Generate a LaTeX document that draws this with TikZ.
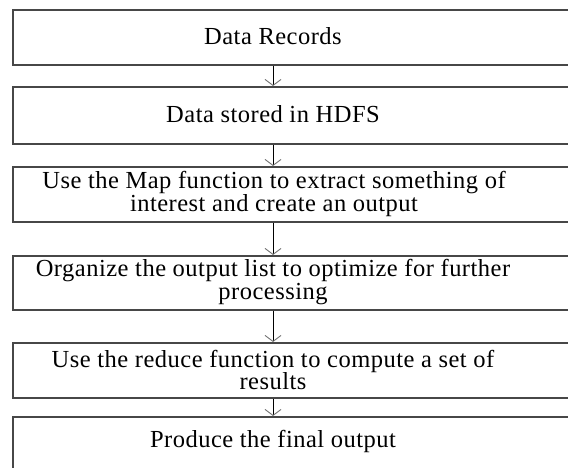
\documentclass[tikz,border=0pt]{standalone}
\usepackage{fontspec}
\setmainfont{Liberation Serif}[LetterSpace=2.0]
\usetikzlibrary{arrows.meta}
\begin{document}
\begin{tikzpicture}[x=1pt,y=-1pt,
  boxstyle/.style={draw=black!72,line width=1.7pt,rectangle,anchor=north west,inner sep=0pt,minimum width=600pt},
  txt/.style={align=center,inner sep=0pt,font=\fontsize{24.5}{22.5}\selectfont},
  arr/.style={draw=black,line width=0.9pt,-{Straight Barb[length=6pt,width=16pt,line width=0.9pt,color=black!55]}}]
\useasboundingbox (0,0) rectangle (568,468);
\clip (0,0) rectangle (568,468);
\node[boxstyle,minimum height=55pt] (b1) at (12,9) {};
\node[boxstyle,minimum height=57pt] (b2) at (12,86) {};
\node[boxstyle,minimum height=55pt] (b3) at (12,166) {};
\node[boxstyle,minimum height=54pt] (b4) at (12,255) {};
\node[boxstyle,minimum height=55pt] (b5) at (12,342) {};
\node[boxstyle,minimum height=58pt] (b6) at (12,416) {};
\node[txt] (t1) at (273,36) {Data Records};
\node[txt] (t2) at (273,114) {Data stored in HDFS};
\node[txt] (t3) at (274,194) {Use the Map function to extract something of\\interest and create an output};
\node[txt] (t4) at (273,282) {Organize the output list to optimize for further\\processing};
\node[txt] (t5) at (273,370) {Use the reduce function to compute a set of\\results};
\node[txt] (t6) at (273,441) {Produce the final output};
\draw[arr] (b1.south -| t1) -- (b2.north -| t1);
\draw[arr] (b2.south -| t1) -- (b3.north -| t1);
\draw[arr] (b3.south -| t1) -- (b4.north -| t1);
\draw[arr] (b4.south -| t1) -- (b5.north -| t1);
\draw[arr] (b5.south -| t1) -- (b6.north -| t1);
\end{tikzpicture}
\end{document}
